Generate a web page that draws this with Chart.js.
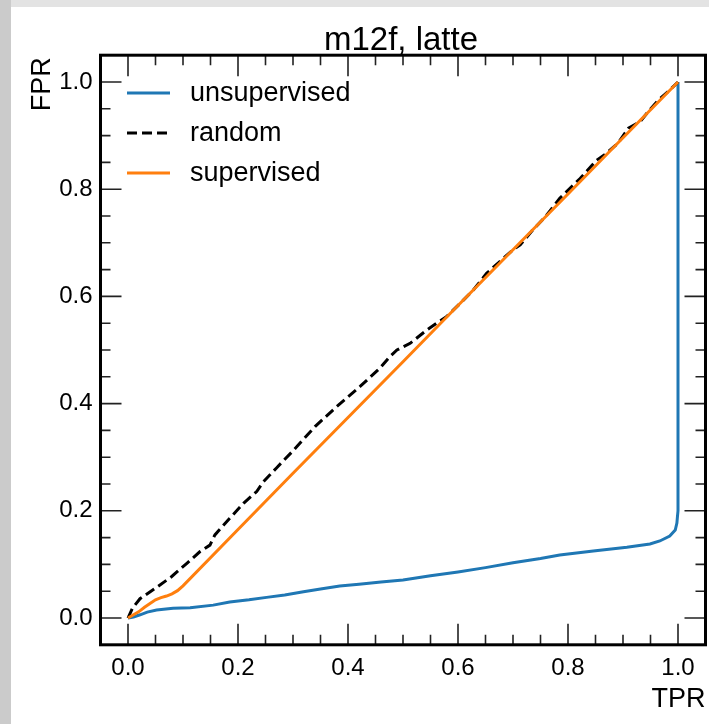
<!DOCTYPE html>
<html><head><meta charset="utf-8">
<script src="https://cdn.jsdelivr.net/npm/chart.js@4.4.0/dist/chart.umd.min.js"></script>
<style>html,body{margin:0;padding:0;background:#fff;overflow:hidden}canvas{display:block}</style>
</head><body>
<canvas id="c" width="709" height="724"></canvas>
<script>
const chartTitle = 'm12f, latte';
const xAxisLabel = 'TPR';
const yAxisLabel = 'FPR';
const xTickValues = [0.0, 0.2, 0.4, 0.6, 0.8, 1.0];
const yTickValues = [0.0, 0.2, 0.4, 0.6, 0.8, 1.0];
const seriesNames = ['unsupervised', 'random', 'supervised'];

const unsupervisedTPR = [0, 0.01, 0.022, 0.035, 0.052, 0.082, 0.113, 0.155, 0.185, 0.22, 0.252, 0.285, 0.319, 0.35, 0.385, 0.42, 0.46, 0.5, 0.55, 0.6, 0.65, 0.7, 0.75, 0.785, 0.846, 0.907, 0.949, 0.967, 0.985, 0.995, 0.998, 0.999, 1.0, 1.0];
const unsupervisedFPR = [0, 0.002, 0.006, 0.011, 0.015, 0.018, 0.019, 0.024, 0.03, 0.034, 0.0385, 0.043, 0.049, 0.054, 0.0597, 0.063, 0.067, 0.071, 0.079, 0.086, 0.094, 0.103, 0.111, 0.1175, 0.125, 0.132, 0.138, 0.1437, 0.153, 0.164, 0.177, 0.189, 0.2, 1.0];

const randomTPR = [0, 0.008, 0.0218, 0.049, 0.079, 0.107, 0.131, 0.149, 0.158, 0.185, 0.21, 0.234, 0.246, 0.27, 0.3, 0.34, 0.379, 0.422, 0.458, 0.476, 0.489, 0.513, 0.543, 0.561, 0.579, 0.604, 0.628, 0.652, 0.676, 0.7, 0.713, 0.736, 0.76, 0.785, 0.822, 0.852, 0.87, 0.891, 0.91, 0.931, 0.946, 0.964, 0.985, 1.0];
const randomFPR = [0, 0.018, 0.036, 0.055, 0.077, 0.102, 0.124, 0.136, 0.155, 0.186, 0.214, 0.236, 0.254, 0.28, 0.312, 0.357, 0.394, 0.432, 0.466, 0.4875, 0.5, 0.5125, 0.537, 0.55, 0.562, 0.587, 0.612, 0.643, 0.665, 0.687, 0.696, 0.724, 0.75, 0.783, 0.82, 0.854, 0.867, 0.886, 0.914, 0.926, 0.945, 0.966, 0.985, 1.0];

const supervisedTPR = [0, 0.01, 0.02, 0.03, 0.04, 0.05, 0.06, 0.07, 0.08, 0.09, 0.1, 0.2, 0.3, 0.4, 0.5, 0.6, 0.7, 0.8, 0.9, 1.0];
const supervisedFPR = [0, 0.006, 0.012, 0.02, 0.027, 0.034, 0.038, 0.041, 0.045, 0.051, 0.06, 0.165, 0.27, 0.374, 0.478, 0.583, 0.687, 0.791, 0.896, 1.0];

const FONT = '"Liberation Sans", Arial, Helvetica, sans-serif';
const pts = (xs, ys) => xs.map((x, i) => ({x: x, y: ys[i]}));

const decor = {
  id: 'decor',
  beforeDraw(chart) {
    const ctx = chart.ctx;
    ctx.save();
    ctx.fillStyle = '#e3e3e3';
    ctx.fillRect(0, 0, chart.width, 7);
    ctx.fillStyle = '#cbcbcb';
    ctx.fillRect(0, 0, 11, chart.height);
    ctx.fillStyle = '#ffffff';
    ctx.fillRect(11, 7, chart.width - 11, chart.height - 7);
    ctx.restore();
  },
  afterDraw(chart) {
    const ctx = chart.ctx, a = chart.chartArea;
    const xs = chart.scales.x, ys = chart.scales.y;
    ctx.save();
    ctx.strokeStyle = '#222';
    ctx.lineWidth = 1.6;
    ctx.beginPath();
    for (let k = 0; k <= 20; k++) {
      const v = k * 0.05;
      const len = (k % 4 === 0) ? 21 : 10;
      const px = xs.getPixelForValue(v);
      ctx.moveTo(px, a.bottom); ctx.lineTo(px, a.bottom - len);
      ctx.moveTo(px, a.top); ctx.lineTo(px, a.top + len);
      const py = ys.getPixelForValue(v);
      ctx.moveTo(a.left, py); ctx.lineTo(a.left + len, py);
      ctx.moveTo(a.right, py); ctx.lineTo(a.right - len, py);
    }
    ctx.stroke();
    ctx.strokeStyle = '#000';
    ctx.lineWidth = 3;
    ctx.strokeRect(a.left, a.top, a.right - a.left, a.bottom - a.top);
    ctx.fillStyle = '#000';
    ctx.font = '33px ' + FONT;
    ctx.textAlign = 'center';
    ctx.textBaseline = 'alphabetic';
    ctx.fillText(chartTitle, (a.left + a.right) / 2 - 2, 50);
    ctx.font = '27px ' + FONT;
    ctx.textAlign = 'right';
    ctx.fillText(xAxisLabel, a.right, 707);
    ctx.save();
    ctx.translate(50, a.top + 2);
    ctx.rotate(-Math.PI / 2);
    ctx.textAlign = 'right';
    ctx.fillText(yAxisLabel, 0, 0);
    ctx.restore();
    const rows = [93, 133, 173];
    chart.data.datasets.forEach((ds, i) => {
      const y = rows[i];
      ctx.strokeStyle = ds.borderColor;
      ctx.lineWidth = ds.borderWidth;
      ctx.setLineDash(ds.borderDash || []);
      ctx.beginPath();
      ctx.moveTo(127, y); ctx.lineTo(170, y);
      ctx.stroke();
      ctx.setLineDash([]);
      ctx.fillStyle = '#000';
      ctx.font = '27px ' + FONT;
      ctx.textAlign = 'left';
      ctx.textBaseline = 'middle';
      ctx.fillText(ds.label, 190, y + 1);
    });
    ctx.restore();
  }
};

new Chart(document.getElementById('c'), {
  type: 'scatter',
  data: {
    datasets: [
      {label: seriesNames[0], data: pts(unsupervisedTPR, unsupervisedFPR), showLine: true, borderColor: '#1f77b4', borderWidth: 3, pointRadius: 0, order: 2, tension: 0},
      {label: seriesNames[1], data: pts(randomTPR, randomFPR), showLine: true, borderColor: '#000000', borderWidth: 3, borderDash: [10, 5], pointRadius: 0, order: 1, tension: 0},
      {label: seriesNames[2], data: pts(supervisedTPR, supervisedFPR), showLine: true, borderColor: '#ff7f0e', borderWidth: 3, pointRadius: 0, order: 0, tension: 0}
    ]
  },
  options: {
    responsive: false,
    devicePixelRatio: 1,
    animation: false,
    layout: {padding: {top: 55.2, right: 3.5, left: 0, bottom: 0}},
    plugins: {legend: {display: false}, title: {display: false}, tooltip: {enabled: false}},
    scales: {
      x: {
        type: 'linear', position: 'bottom', min: -0.05, max: 1.05,
        afterBuildTicks: s => { s.ticks = xTickValues.map(v => ({value: v})); },
        afterFit: s => { s.height = 79.2; },
        grid: {display: false, drawTicks: false},
        border: {display: false},
        ticks: {callback: v => Number(v).toFixed(1), font: {family: FONT, size: 24}, color: '#000', padding: 9, maxRotation: 0, autoSkip: false}
      },
      y: {
        type: 'linear', position: 'left', min: -0.05, max: 1.05,
        afterBuildTicks: s => { s.ticks = yTickValues.map(v => ({value: v})); },
        afterFit: s => { s.width = 100.5; },
        grid: {display: false, drawTicks: false},
        border: {display: false},
        ticks: {callback: v => Number(v).toFixed(1), font: {family: FONT, size: 24}, color: '#000', padding: 8, autoSkip: false}
      }
    }
  },
  plugins: [decor]
});
</script>
</body></html>
